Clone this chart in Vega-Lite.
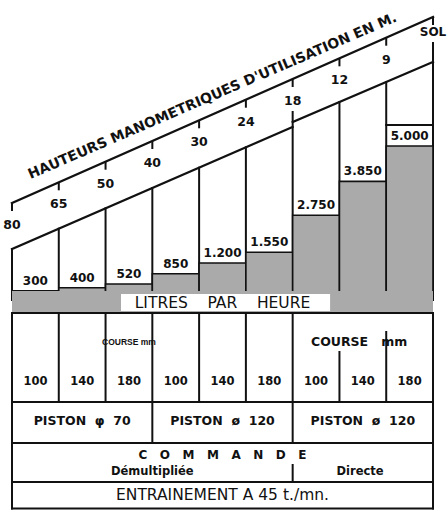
{
  "$schema": "https://vega.github.io/schema/vega-lite/v6.json",
  "width": 421,
  "height": 510,
  "autosize": {"type": "none"},
  "padding": {"left": 12, "right": 14, "top": 0, "bottom": 0},
  "background": "white",
  "config": {
    "view": {"stroke": null},
    "axis": {"disable": true},
    "legend": {"disable": true},
    "text": {"font": "DejaVu Sans", "fontWeight": "bold", "fontSize": 12, "color": "#111", "baseline": "middle", "align": "center"},
    "rule": {"color": "#111", "strokeWidth": 2, "strokeCap": "square"}
  },
  "data": {"values": [{}]},
  "datasets": {
    "bornes": [
      {"borne": 0, "hauteur": "80", "repere": 9.7, "sommet": 5.1},
      {"borne": 1, "hauteur": "65", "repere": 11.77, "sommet": 7.13},
      {"borne": 2, "hauteur": "50", "repere": 13.83, "sommet": 9.17},
      {"borne": 3, "hauteur": "40", "repere": 15.9, "sommet": 11.2},
      {"borne": 4, "hauteur": "30", "repere": 17.97, "sommet": 13.23},
      {"borne": 5, "hauteur": "24", "repere": 20.03, "sommet": 15.27},
      {"borne": 6, "hauteur": "18", "repere": 22.1, "sommet": 18.8},
      {"borne": 7, "hauteur": "12", "repere": 24.17, "sommet": 19.8},
      {"borne": 8, "hauteur": "9", "repere": 26.23, "sommet": 21.8},
      {"borne": 9, "hauteur": "SOL", "repere": 28.3, "sommet": 25.7}
    ],
    "colonnes": [
      {"de": 0, "a": 1, "litres": 300, "debit": "300", "course": "100"},
      {"de": 1, "a": 2, "litres": 400, "debit": "400", "course": "140"},
      {"de": 2, "a": 3, "litres": 520, "debit": "520", "course": "180"},
      {"de": 3, "a": 4, "litres": 850, "debit": "850", "course": "100"},
      {"de": 4, "a": 5, "litres": 1200, "debit": "1.200", "course": "140"},
      {"de": 5, "a": 6, "litres": 1550, "debit": "1.550", "course": "180"},
      {"de": 6, "a": 7, "litres": 2750, "debit": "2.750", "course": "100"},
      {"de": 7, "a": 8, "litres": 3850, "debit": "3.850", "course": "140"},
      {"de": 8, "a": 9, "litres": 5000, "debit": "5.000", "course": "180"}
    ],
    "pistons": [
      {"de": 0, "piston": "PISTON\u00a0\u00a0φ\u00a0\u00a070"},
      {"de": 3, "piston": "PISTON\u00a0\u00a0ø\u00a0\u00a0120"},
      {"de": 6, "piston": "PISTON\u00a0\u00a0ø\u00a0\u00a0120"}
    ],
    "cadre": [
      {"niveau": -1.3},
      {"niveau": -10.2},
      {"niveau": -14.3},
      {"niveau": -18.2},
      {"niveau": -20.85}
    ],
    "cloisons": [
      {"borne": 0, "haut": -1.3, "bas": -20.85},
      {"borne": 9, "haut": -1.3, "bas": -20.85},
      {"borne": 1, "haut": -1.3, "bas": -10.2},
      {"borne": 2, "haut": -1.3, "bas": -10.2},
      {"borne": 3, "haut": -1.3, "bas": -14.3},
      {"borne": 4, "haut": -1.3, "bas": -10.2},
      {"borne": 5, "haut": -1.3, "bas": -10.2},
      {"borne": 6, "haut": -1.3, "bas": -14.3},
      {"borne": 7, "haut": -5.2, "bas": -10.2},
      {"borne": 8, "haut": -3.2, "bas": -10.2},
      {"borne": 6, "haut": -16.5, "bas": -18.2}
    ]
  },
  "resolve": {"scale": {"y": "independent"}},
  "layer": [
    {
      "layer": [
        {
          "mark": {"type": "rule", "strokeWidth": 2.4},
          "encoding": {
            "x": {"datum": 0, "type": "quantitative", "scale": {"domain": [0, 9], "nice": false, "zero": false}},
            "y": {"datum": 9.7, "type": "quantitative", "scale": {"domain": [-21, 30], "nice": false, "zero": false}},
            "x2": {"datum": 9},
            "y2": {"datum": 28.3}
          }
        },
        {
          "mark": {"type": "rule", "strokeWidth": 2.2},
          "encoding": {
            "x": {"datum": 0, "type": "quantitative", "scale": {"domain": [0, 9], "nice": false, "zero": false}},
            "y": {"datum": 5.1, "type": "quantitative", "scale": {"domain": [-21, 30], "nice": false, "zero": false}},
            "x2": {"datum": 6},
            "y2": {"datum": 17.3}
          }
        },
        {
          "mark": {"type": "rule", "strokeWidth": 2.2},
          "encoding": {
            "x": {"datum": 6, "type": "quantitative", "scale": {"domain": [0, 9], "nice": false, "zero": false}},
            "y": {"datum": 17.8, "type": "quantitative", "scale": {"domain": [-21, 30], "nice": false, "zero": false}},
            "x2": {"datum": 9},
            "y2": {"datum": 23.8}
          }
        },
        {
          "mark": {"type": "rule", "strokeWidth": 2},
          "encoding": {
            "x": {"datum": 8, "type": "quantitative", "scale": {"domain": [0, 9], "nice": false, "zero": false}},
            "y": {"datum": 17.5, "type": "quantitative", "scale": {"domain": [-21, 30], "nice": false, "zero": false}},
            "x2": {"datum": 9},
            "y2": {"datum": 17.5}
          }
        },
        {
          "data": {"name": "bornes"},
          "mark": {"type": "rule", "strokeWidth": 2},
          "encoding": {
            "x": {"field": "borne", "type": "quantitative", "scale": {"domain": [0, 9], "nice": false, "zero": false}},
            "y": {"field": "sommet", "type": "quantitative", "scale": {"domain": [-21, 30], "nice": false, "zero": false}},
            "y2": {"datum": 0}
          }
        },
        {
          "data": {"name": "bornes"},
          "mark": {"type": "tick", "orient": "vertical", "size": 8, "thickness": 2, "yOffset": 4, "color": "#111", "opacity": 1},
          "encoding": {
            "x": {"field": "borne", "type": "quantitative", "scale": {"domain": [0, 9], "nice": false, "zero": false}},
            "y": {"field": "repere", "type": "quantitative", "scale": {"domain": [-21, 30], "nice": false, "zero": false}}
          }
        },
        {
          "data": {"name": "bornes"},
          "transform": [{"filter": "datum.borne < 9"}],
          "mark": {"type": "text", "dy": 22, "fontSize": 12.5},
          "encoding": {
            "x": {"field": "borne", "type": "quantitative", "scale": {"domain": [0, 9], "nice": false, "zero": false}},
            "y": {"field": "repere", "type": "quantitative", "scale": {"domain": [-21, 30], "nice": false, "zero": false}},
            "text": {"field": "hauteur"}
          }
        },
        {
          "data": {"name": "bornes"},
          "transform": [{"filter": "datum.borne == 9"}],
          "mark": {"type": "text", "dy": 15, "dx": 0, "fontSize": 12},
          "encoding": {
            "x": {"field": "borne", "type": "quantitative", "scale": {"domain": [0, 9], "nice": false, "zero": false}},
            "y": {"field": "repere", "type": "quantitative", "scale": {"domain": [-21, 30], "nice": false, "zero": false}},
            "text": {"field": "hauteur"}
          }
        },
        {
          "mark": {"type": "text", "angle": -23.3, "fontSize": 14, "baseline": "alphabetic", "text": "HAUTEURS MANOMETRIQUES D'UTILISATION EN M."},
          "encoding": {
            "x": {"datum": 4.32, "type": "quantitative", "scale": {"domain": [0, 9], "nice": false, "zero": false}},
            "y": {"datum": 20.0, "type": "quantitative", "scale": {"domain": [-21, 30], "nice": false, "zero": false}}
          }
        }
      ]
    },
    {
      "layer": [
        {
          "data": {"name": "colonnes"},
          "mark": {"type": "rect", "fill": "#aaaaaa", "stroke": "#111", "strokeWidth": 1.6},
          "encoding": {
            "x": {"field": "de", "type": "quantitative", "scale": {"domain": [0, 9], "nice": false, "zero": false}},
            "x2": {"field": "a"},
            "y": {"field": "litres", "type": "quantitative", "scale": {"domain": [-6818, 9740], "nice": false, "zero": false}},
            "y2": {"datum": 0}
          }
        },
        {
          "data": {"name": "colonnes"},
          "mark": {"type": "text", "dx": 23.4, "dy": -10},
          "encoding": {
            "x": {"field": "de", "type": "quantitative", "scale": {"domain": [0, 9], "nice": false, "zero": false}},
            "y": {"field": "litres", "type": "quantitative", "scale": {"domain": [-6818, 9740], "nice": false, "zero": false}},
            "text": {"field": "debit"}
          }
        }
      ]
    },
    {
      "layer": [
        {
          "mark": {"type": "rect", "fill": "#aaaaaa"},
          "encoding": {
            "x": {"datum": 0, "type": "quantitative", "scale": {"domain": [0, 9], "nice": false, "zero": false}},
            "x2": {"datum": 9},
            "y": {"datum": 0.9, "type": "quantitative", "scale": {"domain": [-21, 30], "nice": false, "zero": false}},
            "y2": {"datum": -1.3}
          }
        },
        {
          "mark": {"type": "rect", "fill": "white"},
          "encoding": {
            "x": {"datum": 2.33, "type": "quantitative", "scale": {"domain": [0, 9], "nice": false, "zero": false}},
            "x2": {"datum": 6.8},
            "y": {"datum": 0.6, "type": "quantitative", "scale": {"domain": [-21, 30], "nice": false, "zero": false}},
            "y2": {"datum": -1.1}
          }
        },
        {
          "mark": {"type": "text", "fontSize": 15.5, "fontWeight": "normal", "text": "LITRES\u00a0\u00a0\u00a0\u00a0PAR\u00a0\u00a0\u00a0\u00a0HEURE"},
          "encoding": {
            "x": {"datum": 4.5, "type": "quantitative", "scale": {"domain": [0, 9], "nice": false, "zero": false}},
            "y": {"datum": -0.25, "type": "quantitative", "scale": {"domain": [-21, 30], "nice": false, "zero": false}}
          }
        },
        {
          "data": {"name": "cadre"},
          "mark": {"type": "rule", "strokeWidth": 2},
          "encoding": {
            "x": {"datum": 0, "type": "quantitative", "scale": {"domain": [0, 9], "nice": false, "zero": false}},
            "x2": {"datum": 9},
            "y": {"field": "niveau", "type": "quantitative", "scale": {"domain": [-21, 30], "nice": false, "zero": false}}
          }
        },
        {
          "data": {"name": "cloisons"},
          "mark": {"type": "rule", "strokeWidth": 2},
          "encoding": {
            "x": {"field": "borne", "type": "quantitative", "scale": {"domain": [0, 9], "nice": false, "zero": false}},
            "y": {"field": "haut", "type": "quantitative", "scale": {"domain": [-21, 30], "nice": false, "zero": false}},
            "y2": {"field": "bas"}
          }
        },
        {
          "data": {"name": "colonnes"},
          "mark": {"type": "text", "dx": 23.4, "fontSize": 11.5},
          "encoding": {
            "x": {"field": "de", "type": "quantitative", "scale": {"domain": [0, 9], "nice": false, "zero": false}},
            "y": {"datum": -8.2, "type": "quantitative", "scale": {"domain": [-21, 30], "nice": false, "zero": false}},
            "text": {"field": "course"}
          }
        },
        {
          "mark": {"type": "text", "fontSize": 8.5, "font": "Liberation Sans", "text": "COURSE mm"},
          "encoding": {
            "x": {"datum": 2.5, "type": "quantitative", "scale": {"domain": [0, 9], "nice": false, "zero": false}},
            "y": {"datum": -4.2, "type": "quantitative", "scale": {"domain": [-21, 30], "nice": false, "zero": false}}
          }
        },
        {
          "mark": {"type": "text", "fontSize": 12.5, "text": "COURSE\u00a0\u00a0\u00a0mm"},
          "encoding": {
            "x": {"datum": 7.42, "type": "quantitative", "scale": {"domain": [0, 9], "nice": false, "zero": false}},
            "y": {"datum": -4.2, "type": "quantitative", "scale": {"domain": [-21, 30], "nice": false, "zero": false}}
          }
        },
        {
          "data": {"name": "pistons"},
          "mark": {"type": "text", "dx": 70.2, "fontSize": 12.5},
          "encoding": {
            "x": {"field": "de", "type": "quantitative", "scale": {"domain": [0, 9], "nice": false, "zero": false}},
            "y": {"datum": -12.1, "type": "quantitative", "scale": {"domain": [-21, 30], "nice": false, "zero": false}},
            "text": {"field": "piston"}
          }
        },
        {
          "mark": {"type": "text", "fontSize": 12, "text": "C\u00a0\u00a0\u00a0O\u00a0\u00a0\u00a0M\u00a0\u00a0\u00a0M\u00a0\u00a0\u00a0A\u00a0\u00a0\u00a0N\u00a0\u00a0\u00a0D\u00a0\u00a0\u00a0E"},
          "encoding": {
            "x": {"datum": 4.5, "type": "quantitative", "scale": {"domain": [0, 9], "nice": false, "zero": false}},
            "y": {"datum": -15.5, "type": "quantitative", "scale": {"domain": [-21, 30], "nice": false, "zero": false}}
          }
        },
        {
          "mark": {"type": "text", "fontSize": 11.5, "text": "Démultipliée"},
          "encoding": {
            "x": {"datum": 3.0, "type": "quantitative", "scale": {"domain": [0, 9], "nice": false, "zero": false}},
            "y": {"datum": -17.2, "type": "quantitative", "scale": {"domain": [-21, 30], "nice": false, "zero": false}}
          }
        },
        {
          "mark": {"type": "text", "fontSize": 11.5, "text": "Directe"},
          "encoding": {
            "x": {"datum": 7.44, "type": "quantitative", "scale": {"domain": [0, 9], "nice": false, "zero": false}},
            "y": {"datum": -17.2, "type": "quantitative", "scale": {"domain": [-21, 30], "nice": false, "zero": false}}
          }
        },
        {
          "mark": {"type": "text", "fontSize": 15.5, "fontWeight": "normal", "text": "ENTRAINEMENT A 45 t./mn."},
          "encoding": {
            "x": {"datum": 4.5, "type": "quantitative", "scale": {"domain": [0, 9], "nice": false, "zero": false}},
            "y": {"datum": -19.5, "type": "quantitative", "scale": {"domain": [-21, 30], "nice": false, "zero": false}}
          }
        }
      ]
    }
  ]
}
